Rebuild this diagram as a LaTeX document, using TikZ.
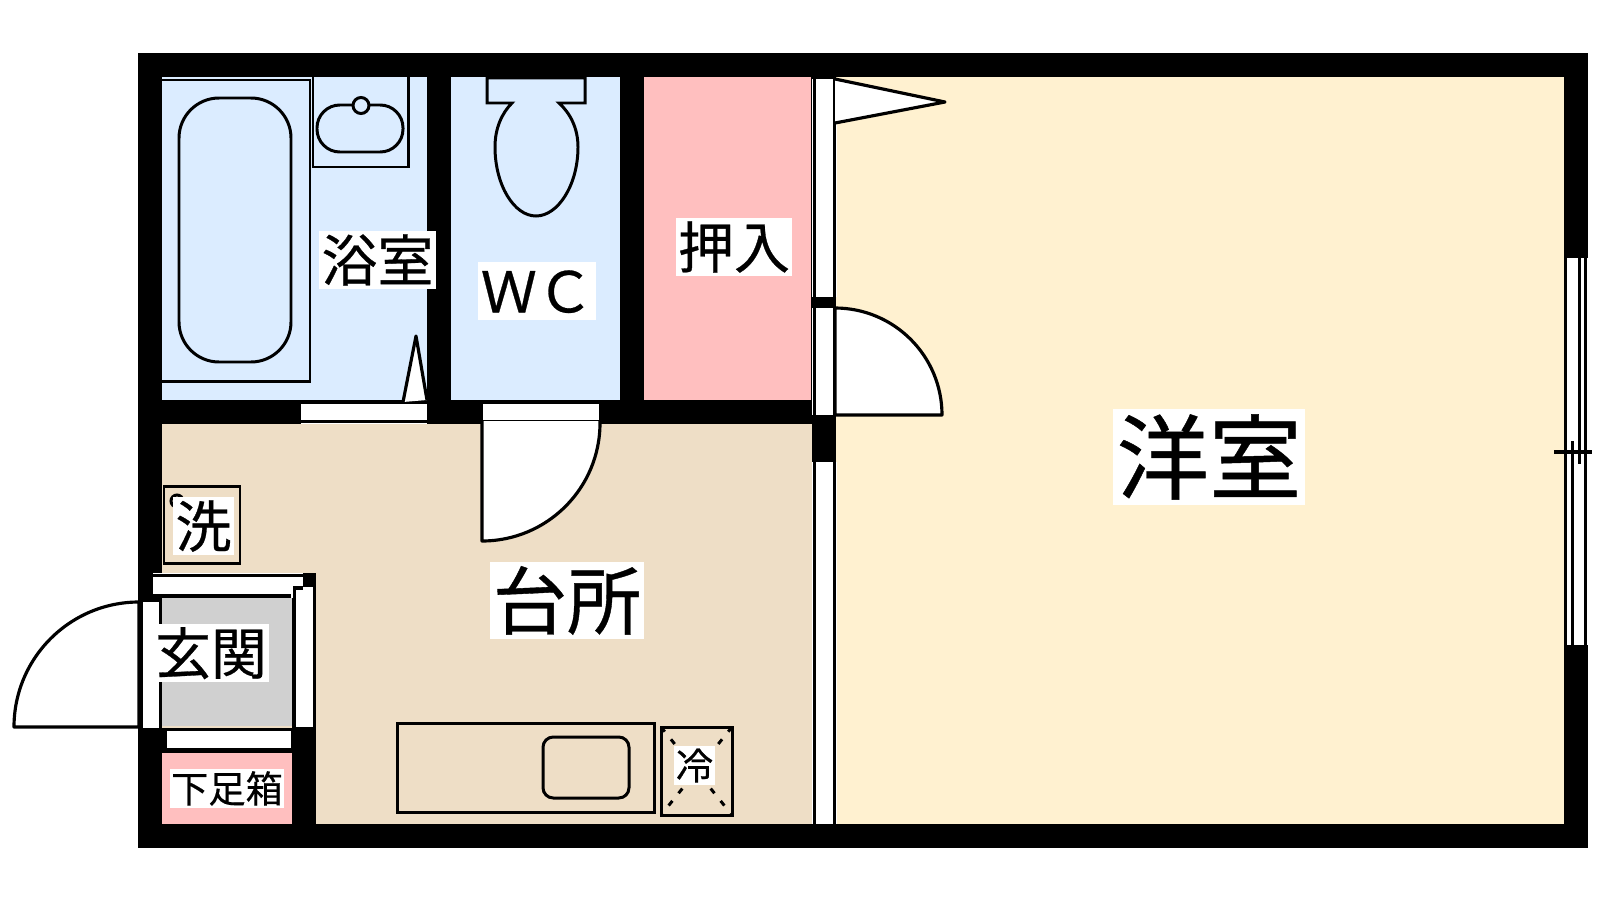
\documentclass[tikz,border=0pt]{standalone}
\usepackage{fontspec}
\setmainfont[FakeBold=0.5]{Noto Sans CJK JP}
\definecolor{bathblue}{HTML}{DBECFF}
\definecolor{closetpink}{HTML}{FFBFBF}
\definecolor{kitchentan}{HTML}{EEDEC6}
\definecolor{roomcream}{HTML}{FFF1D0}
\definecolor{entrygray}{HTML}{D0D0D0}

\begin{document}
\begin{tikzpicture}[x=0.01cm,y=-0.01cm,
    fixture/.style ={draw, line width=0.85pt},
    door/.style ={draw, fill=white, line width=0.9pt, line join=round},
    sash/.style ={draw, line width=0.95pt},
    roomname/.style ={fill=white, inner xsep={0.04*#1 pt}, inner ysep={0.02*#1 pt},
      font=\fontsize{#1}{#1}\selectfont,
      text height={0.88*#1 pt}, text depth={0.12*#1 pt}}]
   \useasboundingbox (0,0) rectangle (1600,900);

   \fill[black] (138,53) rectangle (1588,848);
   \fill[bathblue] (162,77) rectangle (427,400);
   \fill[bathblue] (451,77) rectangle (620,400);
   \fill[closetpink] (644,77) rectangle (811,400);
   \fill[kitchentan] (162,424) rectangle (812,824);
   \fill[roomcream] (836,77) rectangle (1564,824);
   \fill[black] (138,573) rectangle (162,848);
   \fill[black] (138,728) rectangle (316,848);
   \fill[black] (292,587) rectangle (316,848);
   \fill[entrygray] (162,598) rectangle (292,726);
   \fill[closetpink] (162,753) rectangle (292,824);

   \fill[white] (301,400) rectangle (427,424);
   \draw[sash] (301,402) to (427,402);
   \draw[sash] (301,421.5) to (427,421.5);
   \fill[white] (483,400) rectangle (599,424);
   \draw[sash] (483,402) to (599,402);
   \draw[sash] (483,421.5) to (599,421.5);

   \fill[white] (812,79) rectangle (837,297);
   \fill[white] (812,308) rectangle (837,415);
   \fill[white] (812,462) rectangle (837,824);
   \draw[sash] (814.5,79) to (814.5,297);
   \draw[sash] (834.5,79) to (834.5,297);
   \draw[sash] (814.5,308) to (814.5,415);
   \draw[sash] (834.5,308) to (834.5,415);
   \draw[sash] (814.5,462) to (814.5,824);
   \draw[sash] (834.5,462) to (834.5,824);

   \fill[white] (1564,258) rectangle (1588,645);
   \draw[sash] (1565.5,258) to (1565.5,645);
   \draw[sash] (1585.5,258) to (1585.5,645);
   \draw[sash] (1579.5,258) to (1579.5,464);
   \draw[sash] (1572.5,441) to (1572.5,645);
   \draw[sash] (1554,452) to (1592,452);

   \fill[white] (153,573) rectangle (303,598);
   \draw[sash] (153,575.5) to (303,575.5);
   \draw[sash] (153,596) to (291,596);
   \fill[white] (293,587) rectangle (316,727);
   \fill[black] (303,573) rectangle (316,587);
   \draw[sash] (293,588) to (303,588);
   \draw[sash] (294.5,587) to (294.5,727);
   \draw[sash] (314.5,587) to (314.5,727);
   \fill[white] (139,602) rectangle (160,728);
   \draw[sash] (141,602) to (141,728);
   \draw[sash] (160.5,602) to (160.5,728);
   \fill[white] (167,728) rectangle (291,752);
   \draw[sash] (167,729.5) to (291,729.5);
   \draw[sash] (167,750) to (291,750);

   \draw[door] (835,79) -- (945,102) -- (835,123);
   \draw[door] (403,402) -- (416,336) -- (427,400);
   \draw[door] (835,308) arc[start angle=-90,end angle=0,radius=107] -- (835,415) -- cycle;
   \draw[door] (482,421) -- (482,541) arc[start angle=90,end angle=0,radius=118] -- (600,421);
   \draw[door] (14,727) arc[start angle=180,end angle=270,radius=125] -- (139,727) -- cycle;

   \draw[fixture] (162,80) -- (310,80) -- (310,381) -- (162,381);
   \draw[fixture,rounded corners=11.4pt] (179,98) rectangle (291,362);
   \draw[fixture] (313,77) -- (313,167) -- (408,167) -- (408,77);
   \draw[fixture,rounded corners=6.5pt] (317,105) rectangle (403,152);
   \draw[fixture,fill=bathblue] (361,105.5) circle (8);
   \draw[fixture] (487,78) -- (585,78) -- (585,103) -- (559,103)
     .. controls (570,113) and (578,128) .. (578,147)
     .. controls (578,185) and (558,216) .. (536,216)
     .. controls (514,216) and (495,185) .. (495,147)
     .. controls (495,128) and (502,113) .. (512,103) -- (487,103) -- cycle;

   \draw[fixture] (164,486) rectangle (240,563);
   \draw[fixture] (177,501) circle (6);
   \draw[fixture] (397,723) rectangle (654,812);
   \draw[fixture,rounded corners=2.9pt] (543,737) rectangle (629,798);
   \draw[fixture] (661,727) rectangle (732,815);
   \draw[fixture,dash pattern=on 1.7pt off 2.8pt] (661,727) to (732,815);
   \draw[fixture,dash pattern=on 1.7pt off 2.8pt] (732,727) to (661,815);

   \node[roomname=15.9] (bath) at (377.5,260) {浴室};
   \node[roomname=16] (toilet) at (537,291) {ＷＣ};
   \node[roomname=15.9] (closet) at (734,247) {押入};
   \node[roomname=26.3] (western) at (1209,457) {洋室};
   \node[roomname=21.1] (kitchen) at (567,600.5) {台所};
   \node[roomname=15.9] (entry) at (211,653) {玄関};
   \node[roomname=15.9] (washer) at (203.5,526) {洗};
   \node[roomname=10.6] (shoebox) at (227,788.5) {下足箱};
   \node[roomname=10.6] (fridge) at (694.5,765.5) {冷};
 \end{tikzpicture}
\end{document}
